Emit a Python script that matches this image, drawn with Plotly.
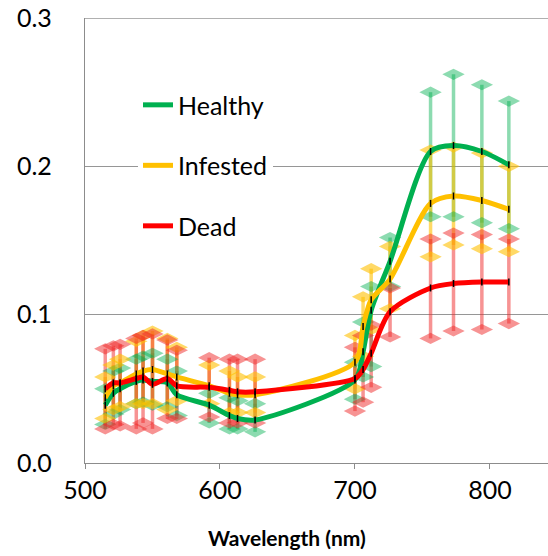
import plotly.graph_objects as go

wavelength = [515, 521, 526, 538, 543, 550, 561, 568, 592, 607, 613, 626,
              700, 706, 712, 726, 756, 773, 794, 814]

healthy_mean = [0.039, 0.047, 0.050, 0.055, 0.056, 0.055, 0.054, 0.046, 0.039, 0.032, 0.030, 0.029,
                0.056, 0.075, 0.103, 0.136, 0.210, 0.214, 0.210, 0.201]
healthy_upper = [0.050, 0.062, 0.064, 0.070, 0.072, 0.074, 0.070, 0.062, 0.047, 0.044, 0.042, 0.040,
                 0.068, 0.095, 0.119, 0.152, 0.250, 0.262, 0.255, 0.244]
healthy_lower = [0.026, 0.033, 0.036, 0.040, 0.041, 0.039, 0.038, 0.032, 0.027, 0.023, 0.023, 0.021,
                 0.043, 0.058, 0.065, 0.119, 0.166, 0.166, 0.162, 0.158]

infested_mean = [0.044, 0.052, 0.054, 0.060, 0.062, 0.063, 0.060, 0.058, 0.052, 0.047, 0.046, 0.046,
                 0.068, 0.092, 0.110, 0.124, 0.175, 0.180, 0.177, 0.171]
infested_upper = [0.058, 0.066, 0.070, 0.082, 0.086, 0.089, 0.084, 0.078, 0.066, 0.062, 0.058, 0.058,
                  0.086, 0.112, 0.131, 0.146, 0.211, 0.213, 0.209, 0.200]
infested_lower = [0.030, 0.036, 0.038, 0.040, 0.040, 0.040, 0.036, 0.042, 0.040, 0.034, 0.034, 0.034,
                  0.050, 0.072, 0.090, 0.104, 0.139, 0.147, 0.1445, 0.1425]

dead_mean = [0.050, 0.054, 0.054, 0.057, 0.058, 0.053, 0.057, 0.052, 0.051, 0.049, 0.048, 0.048,
             0.057, 0.063, 0.074, 0.102, 0.118, 0.121, 0.122, 0.122]
dead_upper = [0.077, 0.079, 0.080, 0.084, 0.086, 0.087, 0.083, 0.076, 0.071, 0.070, 0.070, 0.070,
              0.078, 0.086, 0.093, 0.118, 0.151, 0.155, 0.154, 0.151]
dead_lower = [0.023, 0.026, 0.025, 0.023, 0.027, 0.023, 0.030, 0.030, 0.031, 0.027, 0.027, 0.027,
              0.035, 0.041, 0.051, 0.085, 0.084, 0.089, 0.090, 0.094]

x_ticks = [500, 600, 700, 800]
y_ticks = [0.0, 0.1, 0.2, 0.3]
y_max = 0.3

series = [
    ("Healthy", healthy_mean, healthy_upper, healthy_lower, "#00B050", "rgba(0,176,80,0.45)"),
    ("Infested", infested_mean, infested_upper, infested_lower, "#FFC000", "rgba(255,192,0,0.6)"),
    ("Dead", dead_mean, dead_upper, dead_lower, "#FF0000", "rgba(240,40,40,0.5)"),
]

FONT = "Lato, 'Open Sans', sans-serif"
fig = go.Figure()

# error bars (behind everything)
for name, m, up, lo, col, tcol in series:
    fig.add_trace(go.Scatter(
        x=wavelength, y=m, mode="markers",
        marker=dict(size=1, color="rgba(0,0,0,0)"),
        error_y=dict(type="data", symmetric=False,
                     array=[u - v for u, v in zip(up, m)],
                     arrayminus=[v - l for v, l in zip(m, lo)],
                     color=tcol, thickness=3.5, width=0),
        showlegend=False, hoverinfo="skip"))

# diamond ends
for name, m, up, lo, col, tcol in series:
    fig.add_trace(go.Scatter(
        x=wavelength + wavelength, y=up + lo, mode="markers",
        marker=dict(symbol="diamond-wide", size=16, color=tcol, line=dict(width=0)),
        showlegend=False, hoverinfo="skip"))

# lines
for i, (name, m, up, lo, col, tcol) in enumerate(series):
    fig.add_trace(go.Scatter(
        x=wavelength, y=m, mode="lines", name=name,
        line=dict(color=col, width=5, shape="spline", smoothing=0.8),
        legendgroup=name))

# black data marks
for name, m, up, lo, col, tcol in series:
    fig.add_trace(go.Scatter(
        x=wavelength, y=m, mode="markers",
        marker=dict(symbol="line-ns", size=5, color="black",
                    line=dict(color="black", width=1.5)),
        showlegend=False, hoverinfo="skip"))

fig.update_layout(
    width=548, height=556,
    margin=dict(l=85, r=0, t=18, b=93),
    paper_bgcolor="white", plot_bgcolor="white",
    font=dict(family=FONT, color="black"),
    showlegend=True,
    legend=dict(x=0.1145, y=0.856, xanchor="left", yanchor="top",
                bgcolor="white", borderwidth=0,
                font=dict(size=25, family=FONT, color="black"),
                tracegroupgap=25, itemwidth=30),
    xaxis=dict(range=[500, 843], tickvals=x_ticks, showgrid=False,
               showline=True, linecolor="#8c8c8c", linewidth=1.3,
               ticks="outside", ticklen=5, tickcolor="#8c8c8c",
               tickfont=dict(size=25, family=FONT, color="black"),
               zeroline=False),
    yaxis=dict(range=[0, y_max], tickvals=y_ticks, tickformat=".1f",
               showgrid=True, gridcolor="#969696", gridwidth=1.3,
               showline=True, linecolor="#8c8c8c", linewidth=1.3,
               ticks="", ticklabelstandoff=27,
               tickfont=dict(size=25, family=FONT, color="black"),
               zeroline=False),
    shapes=[dict(type="line", xref="paper", x0=0, x1=1, yref="y", y0=y_max, y1=y_max,
                 line=dict(color="#969696", width=1.3), layer="below")],
    annotations=[dict(text="<b>Wavelength (nm)</b>", xref="paper", yref="paper",
                      x=0.436, y=-0.1685, xanchor="center", yanchor="middle",
                      showarrow=False, font=dict(size=21, family=FONT, color="black"))],
)

fig.write_html("out.html")
